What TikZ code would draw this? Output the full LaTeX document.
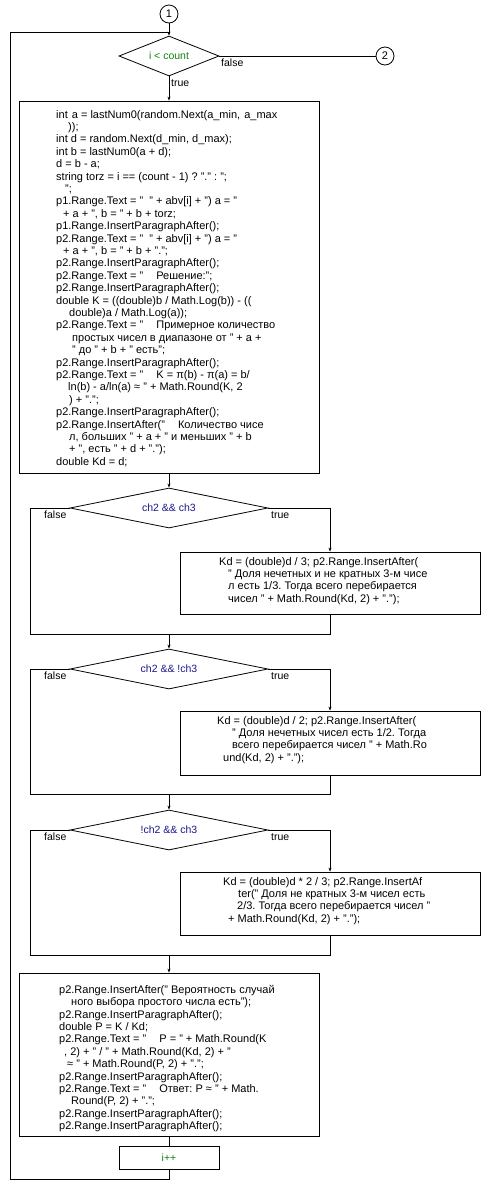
\documentclass[tikz,border=0pt]{standalone}
\usepackage{fontspec}
\setmainfont{Liberation Sans}
\usetikzlibrary{shapes.geometric,arrows.meta}
\definecolor{navytxt}{RGB}{25,25,140}
\definecolor{greentxt}{RGB}{20,130,20}
\newcommand{\myind}[1]{\hspace*{#1pt}}
\newcommand{\mygap}[1]{\hspace{#1pt}}
\frenchspacing
\tikzset{
  ln/.style={line width=0.8pt},
  arr/.style={line width=0.8pt,-{Stealth[length=4pt,width=3pt]}},
  boxnode/.style={draw,rectangle,line width=0.8pt,inner sep=0pt},
  decision/.style={draw,diamond,line width=0.8pt,inner sep=0pt,text=navytxt,font=\fontsize{10.5}{12}\selectfont},
  codetext/.style={align=left,inner sep=0pt,anchor=north west,font=\fontsize{11}{12.4}\selectfont},
  lbl/.style={anchor=west,inner sep=0pt,font=\fontsize{10.5}{12}\selectfont},
  conn/.style={draw,circle,line width=0.8pt,minimum size=18pt,inner sep=0pt,font=\fontsize{11}{12}\selectfont},
}
\begin{document}
\frenchspacing
\begin{tikzpicture}[x=1pt,y=-1pt]
\fill[white] (0,0) rectangle (498,1187);
\useasboundingbox (0,0) rectangle (498,1187);

% connectors 1 and 2
\node[conn] (c1) at (169,14) {1};
\node[conn] (c2) at (385,56) {2};

% loop condition
\node[decision,text=greentxt,minimum width=100pt,minimum height=40pt,shape aspect=2.5] (d1) at (169,56) {i < count};
\draw[arr] (c1) -- (d1.north);
\draw[ln] (d1.east) -- (c2.west);
\node[lbl] (l1f) at (221,63) {false};
\node[lbl] (l1t) at (171,83) {true};

% main box
\node[boxnode,minimum width=300pt,minimum height=372pt] (b1) at (169,287) {};
\draw[arr] (d1.south) -- (b1.north);
\node[codetext] (t1) at (56,110) {%
int\mygap{1} a = lastNum0(random.Next(a\_min,\mygap{1} a\_max\\
\myind{12}));\\
int d = random.Next(d\_min, d\_max);\\
int b = lastNum0(a + d);\\
d = b - a;\\
string torz = i == (count - 1) ? "." : ";\\
\myind{9}";\\
p1.Range.Text = "\mygap{3} " + abv[i] + ") a = "\\
\myind{7}+ a + ", b = " + b + torz;\\
p1.Range.InsertParagraphAfter();\\
p2.Range.Text = "\mygap{3} " + abv[i] + ") a = "\\
\myind{7}+ a + ", b = " + b + ".";\\
p2.Range.InsertParagraphAfter();\\
p2.Range.Text = "\mygap{10} Решение:";\\
p2.Range.InsertParagraphAfter();\\
double K = ((double)b / Math.Log(b)) - ((\\
\myind{13}double)a / Math.Log(a));\\
p2.Range.Text = "\mygap{10} Примерное количество\\
\myind{16}простых чисел в диапазоне от " + a +\\
\myind{16}" до " + b + " есть";\\
p2.Range.InsertParagraphAfter();\\
p2.Range.Text = "\mygap{10} K = π(b) - π(a) = b/\\
\myind{12}ln(b) - a/ln(a) ≈ " + Math.Round(K, 2\\
\myind{13}) + ".";\\
p2.Range.InsertParagraphAfter();\\
p2.Range.InsertAfter("\mygap{10} Количество чисе\\
\myind{13}л, больших " + a + " и меньших " + b\\
\myind{13}+ ", есть " + d + ".");\\
double Kd = d;};

% decision 2
\node[decision,minimum width=198pt,minimum height=40pt,shape aspect=4.95] (d2) at (169,508) {ch2 \&\& ch3};
\draw[arr] (b1.south) -- (d2.north);
\node[lbl] (l2f) at (44,515) {false};
\node[lbl] (l2t) at (271,515) {true};
\node[boxnode,minimum width=300pt,minimum height=62pt] (b2) at (330,583) {};
\node[codetext] (t2) at (219,557) {%
Kd = (double)d / 3; p2.Range.InsertAfter(\\
\myind{9}" Доля нечетных и не кратных 3-м чисе\\
\myind{9}л есть 1/3. Тогда всего перебирается\\
\myind{9}чисел " + Math.Round(Kd, 2) + ".");};
\coordinate (m2) at (169,634);
\coordinate (f2) at (30,634);
\draw[ln] (d2.west) -| (f2) -- (m2);
\draw[arr] (d2.east) -| (b2.north);
\draw[ln] (b2.south) |- (m2);

% decision 3
\node[decision,minimum width=198pt,minimum height=40pt,shape aspect=4.95] (d3) at (169,669) {ch2 \&\& !ch3};
\draw[arr] (m2) -- (d3.north);
\node[lbl] (l3f) at (44,676) {false};
\node[lbl] (l3t) at (271,676) {true};
\node[boxnode,minimum width=300pt,minimum height=64pt] (b3) at (330,743) {};
\node[codetext] (t3) at (217,716) {%
Kd = (double)d / 2; p2.Range.InsertAfter(\\
\myind{15}" Доля нечетных чисел есть 1/2. Тогда\\
\myind{15}всего перебирается чисел " + Math.Ro\\
\myind{6}und(Kd, 2) + ".");};
\coordinate (m3) at (169,794);
\coordinate (f3) at (30,794);
\draw[ln] (d3.west) -| (f3) -- (m3);
\draw[arr] (d3.east) -| (b3.north);
\draw[ln] (b3.south) |- (m3);

% decision 4
\node[decision,minimum width=198pt,minimum height=40pt,shape aspect=4.95] (d4) at (169,830) {!ch2 \&\& ch3};
\draw[arr] (m3) -- (d4.north);
\node[lbl] (l4f) at (44,837) {false};
\node[lbl] (l4t) at (271,837) {true};
\node[boxnode,minimum width=300pt,minimum height=63pt] (b4) at (330,903.5) {};
\node[codetext] (t4) at (223,877) {%
Kd = (double)d * 2 / 3; p2.Range.InsertAf\\
\myind{15}ter(" Доля не кратных 3-м чисел есть\\
\myind{14}2/3. Тогда всего перебирается чисел "\\
\myind{5}+ Math.Round(Kd, 2) + ".");};
\coordinate (m4) at (169,955);
\coordinate (f4) at (30,955);
\draw[ln] (d4.west) -| (f4) -- (m4);
\draw[arr] (d4.east) -| (b4.north);
\draw[ln] (b4.south) |- (m4);

% final box
\node[boxnode,minimum width=300pt,minimum height=163pt] (b5) at (169,1054.5) {};
\draw[arr] (m4) -- (b5.north);
\node[codetext] (t5) at (59,985) {%
p2.Range.InsertAfter(" Вероятность случай\\
\myind{12}ного выбора простого числа есть");\\
p2.Range.InsertParagraphAfter();\\
double P = K / Kd;\\
p2.Range.Text = "\mygap{10} P = " + Math.Round(K\\
\myind{5}, 2) + " / " + Math.Round(Kd, 2) + "\\
\myind{8}≈ " + Math.Round(P, 2) + ".";\\
p2.Range.InsertParagraphAfter();\\
p2.Range.Text = "\mygap{10} Ответ: P ≈ " + Math.\\
\myind{12}Round(P, 2) + ".";\\
p2.Range.InsertParagraphAfter();\\
p2.Range.InsertParagraphAfter();};

% i++
\node[boxnode,minimum width=100pt,minimum height=23pt,text=greentxt,font=\fontsize{10.5}{12}\selectfont] (b6) at (169,1157.5) {i++};
\draw[ln] (b5.south) -- (b6.north);
\coordinate (lb) at (10,1179);
\coordinate (lt) at (10,32);
\coordinate (lj) at (169,32);
\draw[ln] (b6.south) |- (lb) -- (lt) -- (lj);
\end{tikzpicture}
\end{document}
